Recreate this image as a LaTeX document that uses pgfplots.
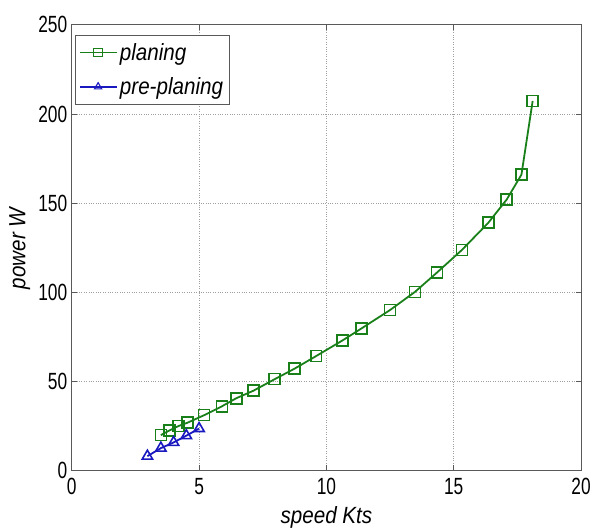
\documentclass[border=0pt]{standalone}
\usepackage{pgfplots}
\pgfplotsset{compat=1.18}
\usepackage{fontspec}
\setmainfont{Liberation Sans}
\newfontfamily\tickfont{Liberation Sans}[FakeStretch=0.74]
\newfontfamily\labfont{Liberation Sans}[FakeStretch=0.88]
\definecolor{mgreen}{rgb}{0.1,0.5,0.1}
\definecolor{mblue}{rgb}{0.1,0.1,0.75}
\definecolor{axgray}{rgb}{0.35,0.35,0.35}
\begin{document}
\begin{tikzpicture}
\path (-72pt,-59pt) rectangle (522pt,472pt);
\begin{axis}[
  at={(0,0)}, anchor=south west,
  scale only axis,
  width=511pt, height=447pt,
  xmin=0, xmax=20, ymin=0, ymax=250,
  xtick={0,5,10,15,20}, ytick={0,50,100,150,200,250},
  grid=major,
  major grid style={dotted, gray!75, line width=1pt},
  axis line style={axgray, line width=1pt},
  tick style={axgray, line width=1pt},
  tick align=inside,
  major tick length=5pt,
  /pgf/number format/assume math mode=true,
  ticklabel style={font=\fontsize{23.5}{26}\tickfont},
  xticklabel style={yshift=-4pt},
  yticklabel style={xshift=-1pt},
  xlabel={\textit{speed Kts}},
  ylabel={\textit{power W}},
  label style={font=\fontsize{23.5}{26}\labfont},
  xlabel style={at={(axis description cs:0.5,-0.105)}, anchor=center},
  ylabel style={at={(axis description cs:-0.102,0.5)}, anchor=center, rotate=0},
  legend style={font=\fontsize{23.5}{26}\labfont\itshape, draw=axgray, line width=1pt, at={(axis description cs:0.006,0.978)}, anchor=north west, inner xsep=4pt, inner ysep=6pt, row sep=12pt, nodes={inner sep=2pt}},
  legend image code/.code={\draw[line width=1.8pt, mark repeat=2, mark phase=2, mark size=4.2pt, mark options={fill=none, line width=1.1pt}] plot coordinates {(0pt,0pt) (18pt,0pt) (37pt,0pt)};},
  legend cell align=left,
]
\addplot[mgreen, line width=1.8pt, mark=square, mark size=5.5pt, mark options={line width=1.6pt, fill=none}]
coordinates {
(3.5,19.8) (3.83,22.4) (4.19,24.9) (4.55,26.8) (5.2,31) (5.9,36) (6.46,40.5)
(7.13,44.7) (7.97,51.2) (8.75,57.1) (9.6,64.2) (10.64,73) (11.38,79.7)
(12.5,90) (13.48,100.2) (14.34,111) (15.32,123.7) (16.36,139) (17.08,152)
(17.66,166) (18.1,207.3)
};
\addlegendentry{planing}
\addplot[mblue, line width=1.8pt, mark=triangle, mark size=6pt, mark options={line width=1.6pt, fill=none}]
coordinates {
(2.97,8) (3.5,12.5) (4.0,15.7) (4.5,19.5) (5.0,23.5)
};
\addlegendentry{pre-planing}
\end{axis}
\end{tikzpicture}
\end{document}
